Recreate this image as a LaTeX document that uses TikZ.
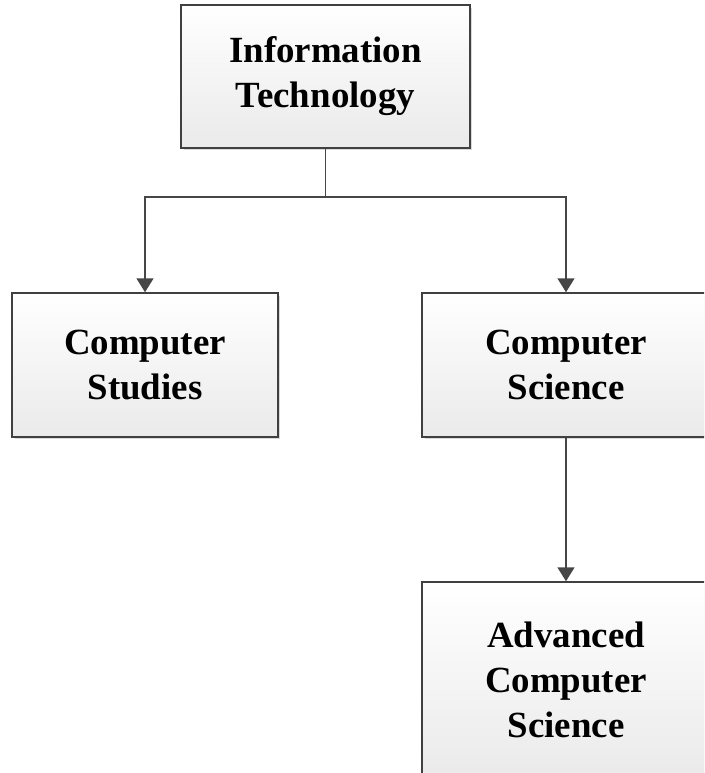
\documentclass[tikz,border=0pt]{standalone}
\usepackage{fontspec}
\setmainfont{Liberation Serif}
\usetikzlibrary{positioning, arrows.meta, shadows}
\definecolor{boxline}{RGB}{64,64,64}
\definecolor{boxbottom}{RGB}{234,234,234}
\definecolor{linkgray}{RGB}{70,70,70}

\begin{document}
\begin{tikzpicture}[x=0.02cm, y=-0.02cm,
  box/.style={draw=boxline, line width=0.03cm, top color=white,
    bottom color=boxbottom, align=center, inner sep=0pt,
    font=\fontsize{21}{25.6}\selectfont\bfseries,
    drop shadow={opacity=0.3, shadow xshift=0.05cm, shadow yshift=-0.05cm}},
  link/.style={draw=linkgray, line width=0.03cm,
    -{Triangle[width=0.34cm, length=0.28cm]}}]
  \useasboundingbox (0,0) rectangle (704,773);
  \clip (0,0) rectangle (704,773);

  % boxes
  \node[box, minimum width=5.78cm, minimum height=2.86cm] (it) at (325.5,76.5)
    {Information\\Technology};
  \node[box, minimum width=5.32cm, minimum height=2.88cm] (cstud) at (145,365)
    {Computer\\Studies};
  \node[box, minimum width=5.76cm, minimum height=2.88cm] (csci) at (566,365)
    {Computer\\Science};
  \node[box, minimum width=5.76cm, minimum height=3.92cm] (acs) at (566,680)
    {Advanced\\Computer\\Science};

  % links
  \coordinate (split) at (325.5,197);
  \draw[draw=linkgray, line width=0.03cm] (it.south) -- (split);
  \draw[link] (split) -| (cstud.north);
  \draw[link] (split) -| (csci.north);
  \draw[link] (csci.south) -- (acs.north);
\end{tikzpicture}
\end{document}
